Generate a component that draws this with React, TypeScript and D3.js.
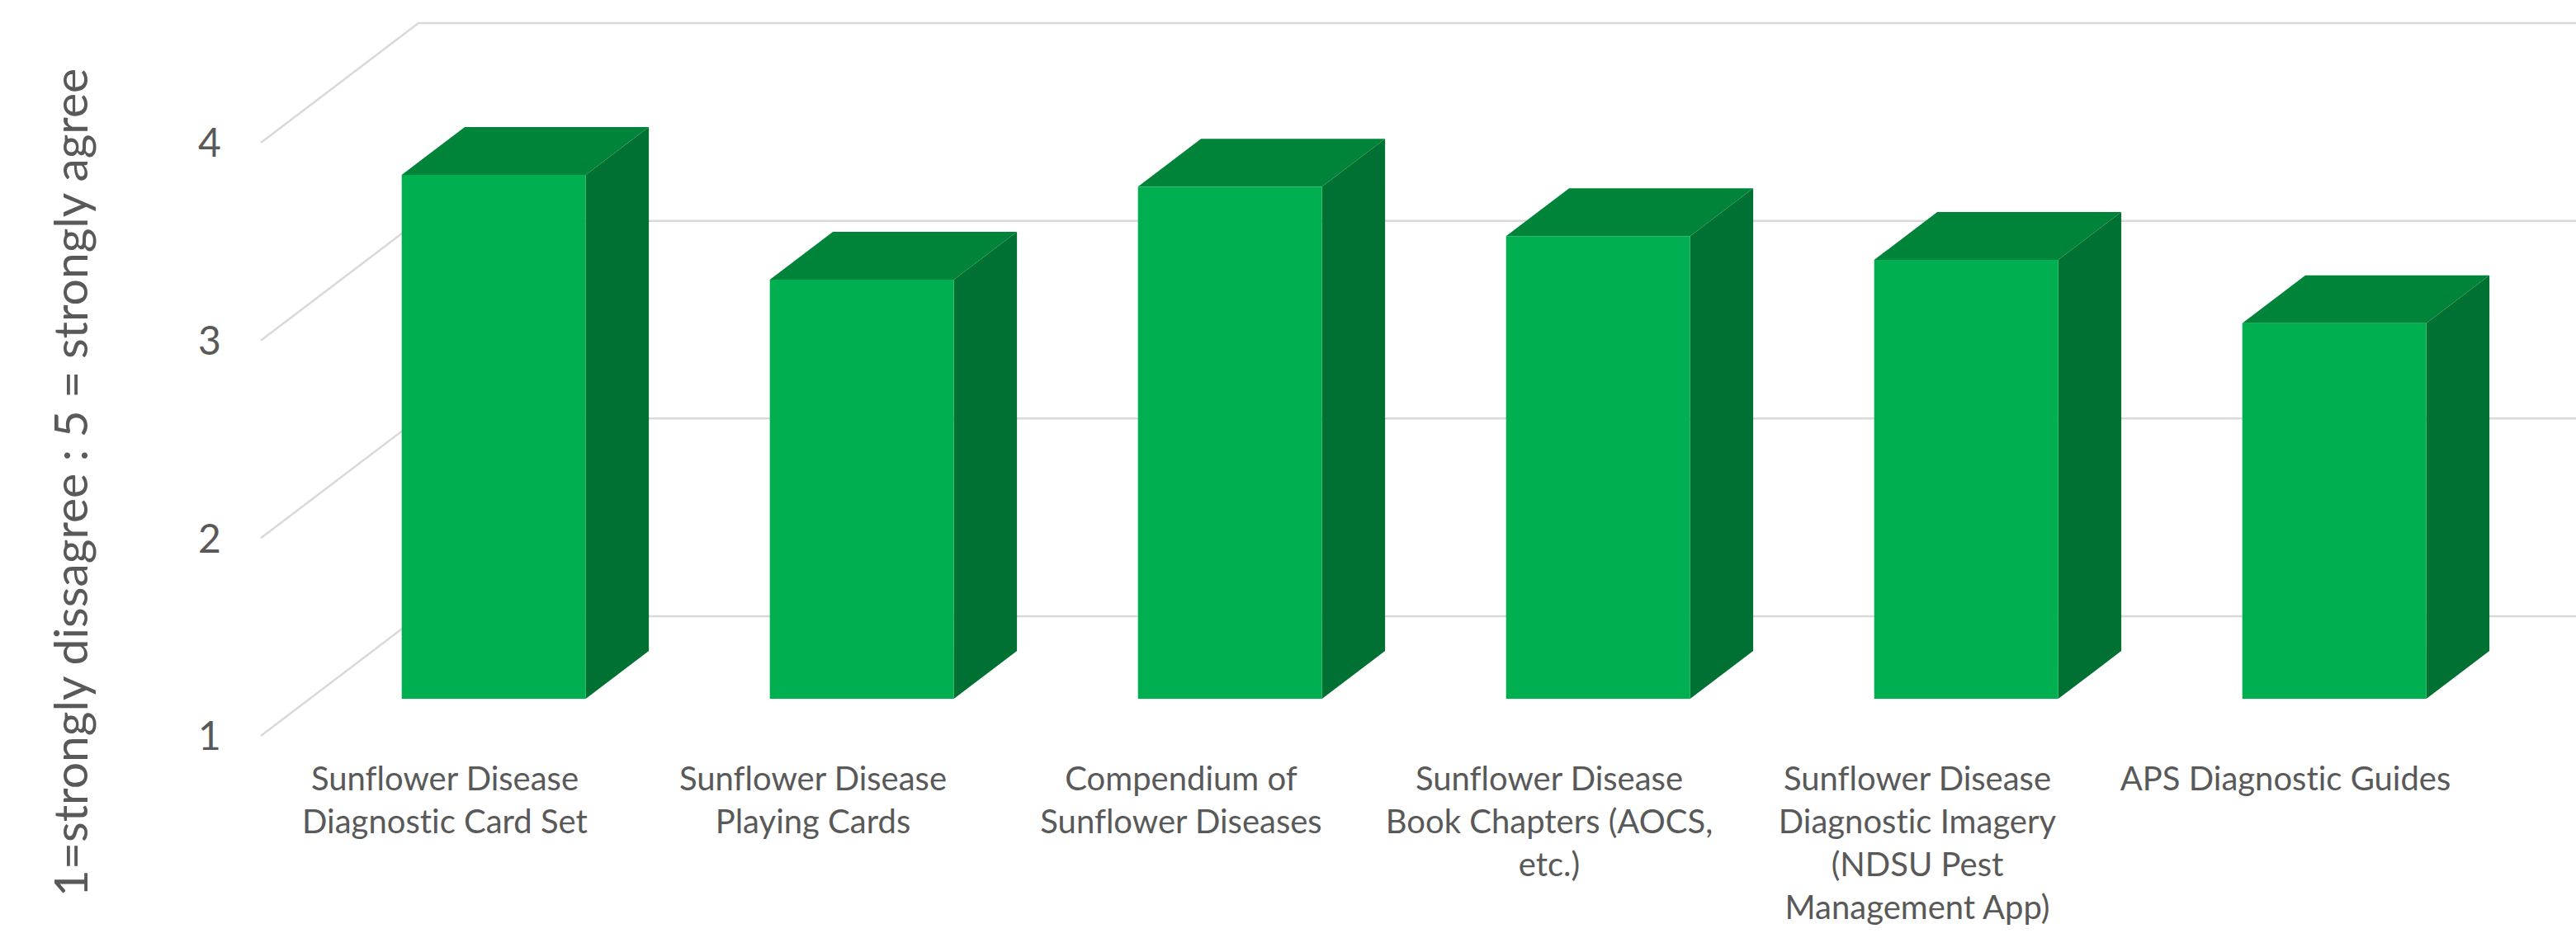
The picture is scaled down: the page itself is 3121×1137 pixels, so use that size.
import React from 'react';
import * as d3 from 'd3';

// survey answers, 1=strongly dissagree : 5 = strongly agree
const categories = [
  'Sunflower Disease Diagnostic Card Set',
  'Sunflower Disease Playing Cards',
  'Compendium of Sunflower Diseases',
  'Sunflower Disease Book Chapters (AOCS, etc.)',
  'Sunflower Disease Diagnostic Imagery (NDSU Pest Management App)',
  'APS Diagnostic Guides'
];
const labelLines = [
  ['Sunflower Disease', 'Diagnostic Card Set'],
  ['Sunflower Disease', 'Playing Cards'],
  ['Compendium of', 'Sunflower Diseases'],
  ['Sunflower Disease', 'Book Chapters (AOCS,', 'etc.)'],
  ['Sunflower Disease', 'Diagnostic Imagery', '(NDSU Pest', 'Management App)'],
  ['APS Diagnostic Guides']
];
const values = [3.65, 3.12, 3.59, 3.34, 3.22, 2.9];
const yTicks = [1, 2, 3, 4];
const axisTitle = '1=strongly dissagree : 5 = strongly agree';

const W = 3121;
const H = 1137;

// oblique projection of the depth axis
const depth = { dx: 191, dy: -145 };
const barDepth = [0.31, 0.71];

const colors = {
  front: '#00b050',
  top: '#00843a',
  side: '#007033',
  grid: '#d9d9d9',
  text: '#595959'
};

export default function App() {
  const x = d3.scaleBand<string>().domain(categories).range([316, 316 + 446 * 6]).padding(0);
  const y = d3.scaleLinear().domain([1, 4]).range([892, 173]);

  const off = (f: number) => [depth.dx * f, depth.dy * f];
  const [bx, by] = off(1);
  const [f1x, f1y] = off(barDepth[0]);
  const [f2x, f2y] = off(barDepth[1]);
  const bw = x.bandwidth() / 2;

  const poly = (pts: number[][]) => pts.map(p => p.join(',')).join(' ');

  return (
    <svg width={W} height={H} style={{ position: 'absolute', left: 0, top: 0, background: '#fff', fontVariantLigatures: 'none' }}
      fontFamily="Lato, 'Open Sans', sans-serif">
      {/* side wall + back wall gridlines */}
      <g stroke={colors.grid} strokeWidth={2.5} fill="none">
        {yTicks.map(t => (
          <g key={t}>
            <line x1={x.range()[0]} y1={y(t)} x2={x.range()[0] + bx} y2={y(t) + by} />
            <line x1={x.range()[0] + bx} y1={y(t) + by} x2={x.range()[1] + bx} y2={y(t) + by} />
          </g>
        ))}
      </g>

      {/* bars */}
      {categories.map((c, i) => {
        const cx = x(c)! + x.bandwidth() / 2;
        const l = cx - bw / 2 + f1x;
        const r = cx + bw / 2 + f1x;
        const top = y(values[i]) + f1y;
        const bot = y(1) + f1y;
        const ddx = f2x - f1x;
        const ddy = f2y - f1y;
        return (
          <g key={c}>
            <polygon fill={colors.side} points={poly([[r, top], [r + ddx, top + ddy], [r + ddx, bot + ddy], [r, bot]])} />
            <polygon fill={colors.top} points={poly([[l, top], [l + ddx, top + ddy], [r + ddx, top + ddy], [r, top]])} />
            <rect fill={colors.front} x={l} y={top} width={r - l} height={bot - top} />
          </g>
        );
      })}

      {/* value axis labels */}
      <g fill={colors.text} fontSize={48} textAnchor="middle">
        {yTicks.map(t => (
          <text key={t} x={254} y={y(t)} dy="0.36em">{t}</text>
        ))}
      </g>

      {/* category labels */}
      <g fill={colors.text} fontSize={40} textAnchor="middle">
        {categories.map((c, i) => (
          <text key={c} x={x(c)! + x.bandwidth() / 2} y={958}>
            {labelLines[i].map((ln, j) => (
              <tspan key={j} x={x(c)! + x.bandwidth() / 2} y={958 + j * 52}>{ln}</tspan>
            ))}
          </text>
        ))}
      </g>

      {/* axis title */}
      <text fill={colors.text} fontSize={57} textAnchor="middle"
        transform={`translate(86, 585) rotate(-90)`} dy="0.35em">
        {axisTitle}
      </text>
    </svg>
  );
}
